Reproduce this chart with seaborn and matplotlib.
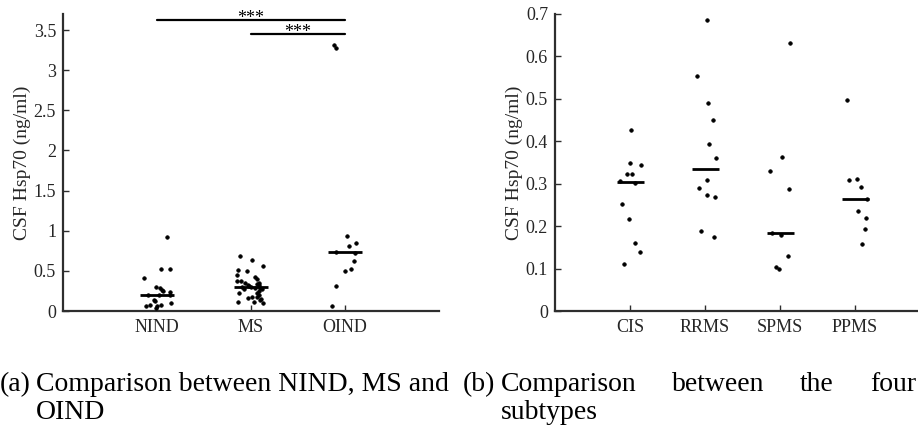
import numpy as np
import pandas as pd
import matplotlib
matplotlib.use("Agg")
import matplotlib.pyplot as plt
import seaborn as sns

# ---------------- data ----------------
groups_a = ["NIND", "MS", "OIND"]
nind_vals = [0.923, 0.52, 0.52, 0.41, 0.296, 0.283, 0.262, 0.246, 0.242, 0.20,
             0.20, 0.205, 0.142, 0.121, 0.105, 0.062, 0.071, 0.075, 0.058, 0.037]
nind_jit = [0.11, 0.046, 0.138, -0.138, -0.007, 0.035, 0.05, 0.064, 0.135, -0.10,
            0.024, 0.138, -0.035, -0.018, 0.149, -0.12, -0.074, 0.039, 0.0, -0.007]
ms_vals = [0.69, 0.635, 0.56, 0.505, 0.495, 0.45, 0.425, 0.40, 0.37, 0.37,
           0.345, 0.33, 0.335, 0.35, 0.32, 0.31, 0.30, 0.295, 0.29, 0.285,
           0.27, 0.25, 0.23, 0.225, 0.20, 0.18, 0.17, 0.16, 0.15, 0.135,
           0.117, 0.108, 0.105, 0.28]
ms_jit = [-0.12, 0.015, 0.13, -0.135, -0.04, -0.145, 0.04, 0.065, -0.145, -0.11,
          -0.06, -0.03, 0.06, 0.09, 0.08, -0.02, 0.0, -0.1, 0.04, 0.10,
          0.12, 0.085, -0.13, 0.06, 0.09, 0.06, 0.01, -0.03, 0.11, 0.10,
          0.035, -0.14, 0.13, -0.07]
oind_vals = [0.935, 0.853, 0.807, 0.735, 0.725, 0.623, 0.528, 0.503, 0.308, 0.062, 3.31, 3.28]
oind_jit = [0.024, 0.117, 0.043, -0.096, 0.106, 0.093, 0.067, -0.003, -0.10, -0.141, -0.114, -0.096]

groups_b = ["CIS", "RRMS", "SPMS", "PPMS"]
cis_vals = [0.426, 0.349, 0.345, 0.323, 0.323, 0.306, 0.301, 0.253, 0.218, 0.161, 0.139, 0.110]
cis_jit = [0.017, -0.004, 0.147, -0.044, 0.027, -0.133, 0.071, -0.107, -0.017, 0.063, 0.133, -0.076]
rrms_vals = [0.685, 0.555, 0.491, 0.449, 0.394, 0.361, 0.308, 0.289, 0.273, 0.269, 0.188, 0.175]
rrms_jit = [0.023, -0.107, 0.04, 0.103, 0.053, 0.147, 0.023, -0.084, 0.023, 0.133, -0.049, 0.124]
spms_vals = [0.632, 0.363, 0.330, 0.288, 0.183, 0.178, 0.130, 0.103, 0.100]
spms_jit = [0.137, 0.031, -0.129, 0.116, -0.107, 0.013, 0.103, -0.053, -0.009]
ppms_vals = [0.497, 0.308, 0.312, 0.293, 0.263, 0.236, 0.220, 0.193, 0.157]
ppms_jit = [-0.111, -0.08, 0.027, 0.08, 0.16, 0.036, 0.151, 0.137, 0.093]

sig_pairs = [("NIND", "OIND"), ("MS", "OIND")]
sig_heights = [3.625, 3.45]
sig_labels = ["***", "***"]

ylabel = "CSF Hsp70 (ng/ml)"
caption_a = ["(a)", "Comparison between NIND, MS and", "OIND"]
caption_b = ["(b)", "Comparison", "between", "the", "four", "subtypes"]


def make_df(groups, vals, jits):
    rows = []
    for i, (g, v, j) in enumerate(zip(groups, vals, jits)):
        for vv, jj in zip(v, j):
            rows.append({"group": g, "value": vv, "pos": i + 1, "x": i + 1 + jj})
    return pd.DataFrame(rows)


df_a = make_df(groups_a, [nind_vals, ms_vals, oind_vals], [nind_jit, ms_jit, oind_jit])
df_b = make_df(groups_b, [cis_vals, rrms_vals, spms_vals, ppms_vals],
               [cis_jit, rrms_jit, spms_jit, ppms_jit])

# ---------------- styling ----------------
sns.set_theme(style="ticks")
plt.rcParams["font.family"] = ["Liberation Serif", "DejaVu Serif"]
spine_c = "#2e2e2e"
text_c = "#262626"

W, H = 918, 428
fig = plt.figure(figsize=(W / 100, H / 100), dpi=100)
ax1 = fig.add_axes([63 / W, (H - 311) / H, 376 / W, 297 / H])
ax2 = fig.add_axes([555 / W, (H - 311) / H, 375 / W, 297 / H])


def draw_panel(ax, df, groups, ylim, yticks):
    sns.scatterplot(data=df, x="x", y="value", ax=ax, color="black", s=7,
                    edgecolor="black", linewidth=0.4, legend=False, zorder=3)
    med = df.groupby("group", sort=False)["value"].median()
    for i, g in enumerate(groups):
        ax.hlines(med[g], i + 1 - 0.18, i + 1 + 0.18, color="black", lw=2.0, zorder=4)
    ax.set_xlim(0, len(groups) + 1)
    ax.set_ylim(*ylim)
    ax.set_xticks(range(1, len(groups) + 1))
    ax.set_xticklabels(groups)
    ax.set_yticks(yticks)
    ax.set_yticklabels([f"{t:g}" for t in yticks])
    ax.set_xlabel("")
    ax.set_ylabel(ylabel, fontsize=14, color=text_c)
    ax.yaxis.set_label_coords(-0.085, 0.5)
    for s in ["top", "right"]:
        ax.spines[s].set_visible(False)
    for s in ["left", "bottom"]:
        ax.spines[s].set_linewidth(1.6)
        ax.spines[s].set_color(spine_c)
    ax.tick_params(axis="both", direction="in", length=4, width=1.0, color=spine_c,
                   labelcolor=text_c, labelsize=13)
    ax.tick_params(axis="y", pad=5)
    ax.tick_params(axis="x", pad=6)
    ax.grid(False)


draw_panel(ax1, df_a, groups_a, (0, 3.7), np.arange(0, 3.51, 0.5))
draw_panel(ax2, df_b, groups_b, (0, 0.7), np.round(np.arange(0, 0.71, 0.1), 1))

# significance bars
for (g1, g2), h, lab in zip(sig_pairs, sig_heights, sig_labels):
    x1 = groups_a.index(g1) + 1
    x2 = groups_a.index(g2) + 1
    ax1.plot([x1, x2], [h, h], color="black", lw=1.6, clip_on=False, zorder=5)
    ax1.text((x1 + x2) / 2, h - 0.04, lab, ha="center", va="baseline",
             fontsize=13, color="black", clip_on=False)

# ---------------- captions ----------------
cap_fs = 20
y1 = (H - 391) / H
y2 = (H - 419) / H
fig.canvas.draw()
r = fig.canvas.get_renderer()


def caption(label, body_words, second, left, right, justify):
    tl = fig.text(left / W, y1, label, fontsize=cap_fs, color="black", va="baseline")
    wl = tl.get_window_extent(r).width
    bx = left + wl + 5
    if not justify:
        fig.text(bx / W, y1, " ".join(body_words), fontsize=cap_fs, color="black", va="baseline")
    else:
        tmp = [fig.text(0, y1, w_, fontsize=cap_fs, color="black", va="baseline")
               for w_ in body_words]
        widths = [t.get_window_extent(r).width for t in tmp]
        gap = (right - bx - sum(widths)) / (len(body_words) - 1)
        x = bx
        for t, w_ in zip(tmp, widths):
            t.set_x(x / W)
            x += w_ + gap
    fig.text(bx / W, y2, second, fontsize=cap_fs, color="black", va="baseline")


caption(caption_a[0], [caption_a[1]], caption_a[2], 0, 456, False)
caption(caption_b[0], caption_b[1:5], caption_b[5], 463, 916, True)

fig.savefig("out.png", dpi=100)
